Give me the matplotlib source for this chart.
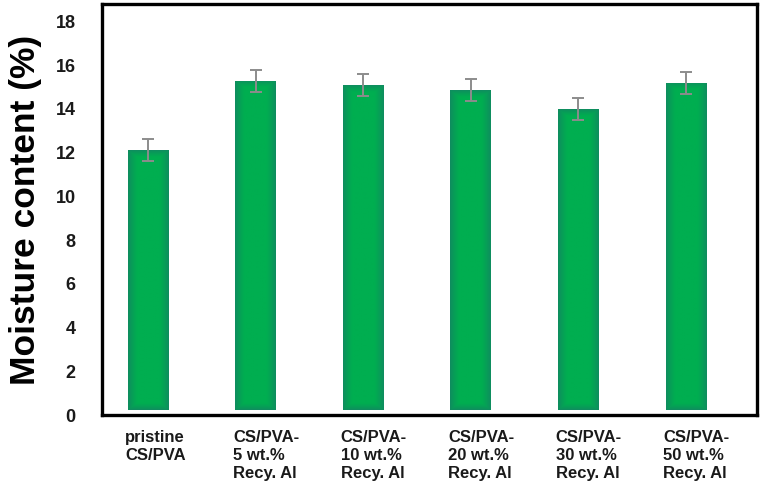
import numpy as np
import matplotlib
matplotlib.use("Agg")
import matplotlib.pyplot as plt
import matplotlib.colors as mcolors
import matplotlib.transforms as mtransforms

plt.rcParams['font.family'] = ['Liberation Sans', 'DejaVu Sans']
plt.rcParams['font.weight'] = 'bold'

# --- data ---
labels = [
    "pristine\nCS/PVA",
    "CS/PVA-\n5 wt.%\nRecy. Al",
    "CS/PVA-\n10 wt.%\nRecy. Al",
    "CS/PVA-\n20 wt.%\nRecy. Al",
    "CS/PVA-\n30 wt.%\nRecy. Al",
    "CS/PVA-\n50 wt.%\nRecy. Al",
]
moisture = [12.12, 15.29, 15.09, 14.86, 13.99, 15.19]
moisture_err = [0.5, 0.5, 0.51, 0.5, 0.5, 0.5]
bar_base = 0.23
yticks = [0, 2, 4, 6, 8, 10, 12, 14, 16, 18]

fig = plt.figure(figsize=(7.63, 4.86), dpi=100)
ax = fig.add_axes([102 / 763, 71 / 486, 655 / 763, 411 / 486])

x = np.arange(len(labels))
bar_w = 0.38
heights = [m - bar_base for m in moisture]
bars = ax.bar(x, heights, bottom=bar_base, width=bar_w,
              facecolor='none', edgecolor='none', zorder=2)
ax.errorbar(x, moisture, yerr=moisture_err, fmt='none', ecolor='#8c8c8c',
            elinewidth=1.4, capsize=4, capthick=1.4, zorder=4)

ax.set_xlim(-0.427, 5.66)
ax.set_ylim(0, 18.8)
ax.set_yticks(yticks)
ax.set_yticklabels([str(t) for t in yticks], fontsize=13, fontweight='bold',
                   color='#1a1a1a')
ax.tick_params(axis='y', length=0, pad=19)
ax.set_xticks([])

for s in ax.spines.values():
    s.set_linewidth(2.4)
    s.set_color('black')

ax.set_ylabel("Moisture content (%)", fontsize=25.5, fontweight='bold')
ax.yaxis.set_label_coords(-0.092, 0.5)

# category labels, left aligned under each bar
trans = mtransforms.blended_transform_factory(ax.transData, ax.transAxes)
for xi, lab in zip(x, labels):
    ax.text(xi - bar_w / 2 - 0.02, -0.037, lab, transform=trans, ha='left',
            va='top', fontsize=12, fontweight='bold', color='#1a1a1a',
            linespacing=1.25)

# gradient fill for each bar (dark teal edges -> bright green centre)
fig.canvas.draw()
edge_c = np.array(mcolors.to_rgb('#108a60'))
mid_c = np.array(mcolors.to_rgb('#00ae50'))
for p in bars.patches:
    x0, y0 = p.get_x(), p.get_y()
    w, h = p.get_width(), p.get_height()
    (px0, py0), (px1, py1) = ax.transData.transform([(x0, y0), (x0 + w, y0 + h)])
    nx, ny = max(int(px1 - px0), 2), max(int(py1 - py0), 2)
    ix = np.arange(nx) + 0.5
    iy = np.arange(ny) + 0.5
    dx = np.minimum(ix, nx - ix)[None, :]
    dy = np.minimum(iy, ny - iy)[:, None]
    d = np.minimum(dx, dy * 1.3)
    t = np.clip(d / 9.0, 0, 1) ** 0.8
    img = edge_c[None, None, :] * (1 - t[..., None]) + mid_c[None, None, :] * t[..., None]
    im = ax.imshow(img, extent=(x0, x0 + w, y0, y0 + h), origin='lower',
                   aspect='auto', interpolation='bilinear', zorder=2)
    im.set_clip_path(p)

ax.set_xlim(-0.427, 5.66)
ax.set_ylim(0, 18.8)

fig.savefig("out.png", dpi=100)
